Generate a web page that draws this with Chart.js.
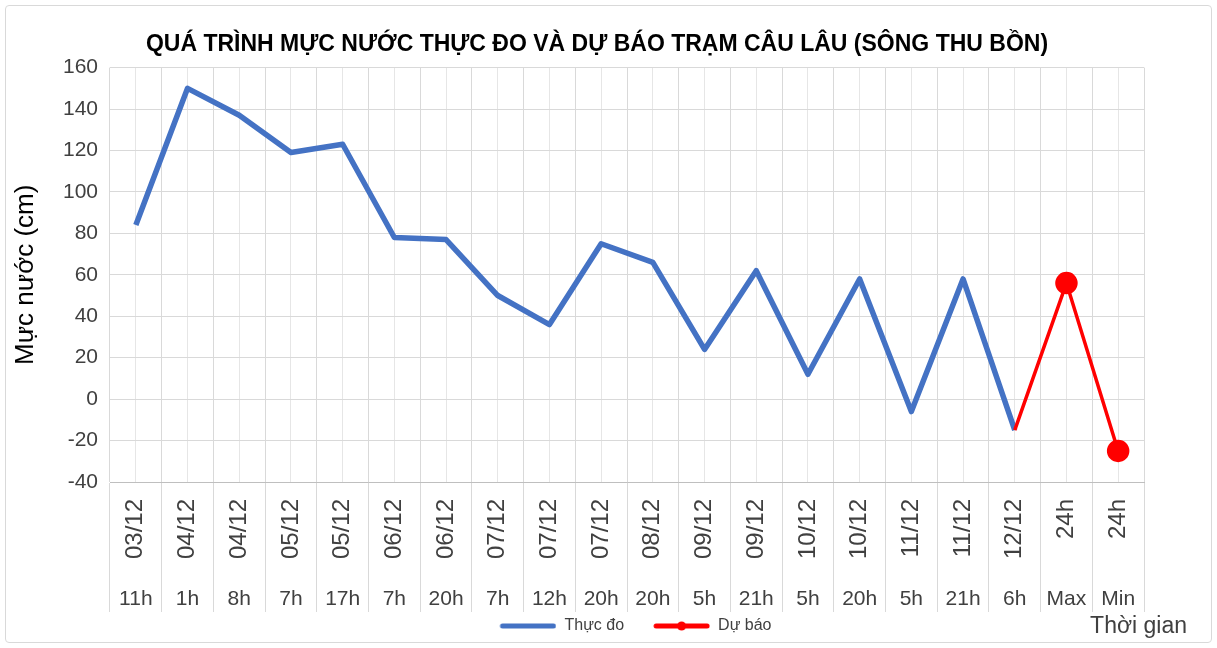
<!DOCTYPE html>
<html>
<head>
<meta charset="utf-8">
<script src="https://cdn.jsdelivr.net/npm/chart.js@4/dist/chart.umd.min.js"></script>
<style>
  body { margin: 0; background: #fff; }
  #wrap { position: relative; width: 1217px; height: 648px; }
  #frame { position: absolute; left: 5px; top: 5px; width: 1205px; height: 636px;
           border: 1px solid #d9d9d9; border-radius: 4px; pointer-events: none; }
</style>
</head>
<body>
<div id="wrap">
  <canvas id="chart" width="1217" height="648"></canvas>
  <div id="frame"></div>
</div>
<script>
const ngay = ['03/12', '04/12', '04/12', '05/12', '05/12', '06/12', '06/12', '07/12', '07/12', '07/12',
              '08/12', '09/12', '09/12', '10/12', '10/12', '11/12', '11/12', '12/12', '24h', '24h'];
const gio = ['11h', '1h', '8h', '7h', '17h', '7h', '20h', '7h', '12h', '20h',
             '20h', '5h', '21h', '5h', '20h', '5h', '21h', '6h', 'Max', 'Min'];
const thucDo = [84, 150, 137, 119, 123, 78, 77, 50, 36, 75, 66, 24, 62, 12, 58, -6, 58, -15, null, null];
const duBao = [null, null, null, null, null, null, null, null, null, null,
               null, null, null, null, null, null, null, -15, 56, -25];
const yTicks = { min: -40, max: 160, step: 20 };

const font = 'Liberation Sans, Arial, sans-serif';
const xanh = '#4472C4';
const do_ = '#FF0000';

// ky hieu chu giai: doan thang (co cham tron cho du bao), chua khoang trong ben trai
function kyHieu(mau, coCham) {
    const c = document.createElement('canvas');
    c.width = 74;
    c.height = 12;
    const g = c.getContext('2d');
    g.strokeStyle = mau;
    g.lineWidth = 5;
    g.lineCap = 'round';
    g.beginPath();
    g.moveTo(20, 6);
    g.lineTo(71, 6);
    g.stroke();
    if (coCham) {
        g.fillStyle = mau;
        g.beginPath();
        g.arc(45.5, 6, 4.5, 0, Math.PI * 2);
        g.fill();
    }
    return c;
}

// chu "Thoi gian" nam canh chu giai
const thoiGianPlugin = {
    id: 'thoiGian',
    afterDraw(chart) {
        const ctx = chart.ctx;
        const lg = chart.legend;
        ctx.save();
        ctx.font = '23px ' + font;
        ctx.fillStyle = '#404040';
        ctx.textAlign = 'right';
        ctx.textBaseline = 'middle';
        ctx.fillText('Thời gian', chart.chartArea.right + 43, lg.top + lg.height / 2 + 2);
        ctx.restore();
    }
};

const config = {
    type: 'line',
    data: {
        labels: ngay,
        datasets: [{
            label: 'Thực đo',
            data: thucDo,
            borderColor: xanh,
            backgroundColor: xanh,
            borderWidth: 5.5,
            pointRadius: 0,
            borderJoinStyle: 'round',
            order: 1
        }, {
            label: 'Dự báo',
            data: duBao,
            borderColor: do_,
            backgroundColor: do_,
            borderWidth: 3.5,
            pointRadius: duBao.map((v, i) => (i >= 18 ? 9.5 : 0)),
            pointStyle: 'circle',
            pointBackgroundColor: do_,
            pointBorderColor: do_,
            borderJoinStyle: 'round',
            order: 0
        }]
    },
    options: {
        responsive: false,
        animation: false,
        layout: { padding: { left: 10, right: 33, top: 0, bottom: 4 } },
        plugins: {
            title: {
                display: true,
                text: 'QUÁ TRÌNH MỰC NƯỚC THỰC ĐO VÀ DỰ BÁO TRẠM CÂU LÂU (SÔNG THU BỒN)',
                font: { family: font, size: 23, weight: 'bold' },
                color: '#000',
                padding: { top: 31, bottom: 9 }
            },
            legend: {
                position: 'bottom',
                fullSize: false,
                labels: {
                    font: { family: font, size: 16 },
                    color: '#404040',
                    usePointStyle: true,
                    pointStyleWidth: 74,
                    boxHeight: 12,
                    padding: 12,
                    generateLabels: chart => chart.data.datasets.map((ds, i) => ({
                        text: ds.label,
                        fillStyle: ds.borderColor,
                        strokeStyle: ds.borderColor,
                        fontColor: '#404040',
                        lineWidth: 0,
                        hidden: false,
                        pointStyle: kyHieu(ds.borderColor, i === 1),
                        datasetIndex: i
                    }))
                }
            },
            tooltip: { enabled: false }
        },
        scales: {
            x: {
                type: 'category',
                labels: ngay,
                offset: true,
                weight: 0,
                grid: { offset: true, color: '#d9d9d9', tickColor: '#d9d9d9', tickLength: 130 },
                border: { color: '#bfbfbf' },
                ticks: {
                    font: { family: font, size: 24 },
                    color: '#404040',
                    minRotation: 90,
                    maxRotation: 90,
                    autoSkip: false,
                    padding: -113
                },
                afterFit: s => { s.height = 100; }
            },
            x2: {
                type: 'category',
                labels: gio,
                position: 'bottom',
                offset: true,
                weight: 1,
                grid: { offset: false, color: '#e6e6e6', drawTicks: false },
                border: { display: false },
                ticks: {
                    font: { family: font, size: 21 },
                    color: '#404040',
                    maxRotation: 0,
                    autoSkip: false,
                    padding: 5
                },
                afterFit: s => { s.height = 24; }
            },
            y: {
                min: yTicks.min,
                max: yTicks.max,
                ticks: {
                    stepSize: yTicks.step,
                    font: { family: font, size: 21 },
                    color: '#404040',
                    padding: 12
                },
                grid: { color: '#d9d9d9', drawTicks: false },
                border: { display: false },
                title: {
                    display: true,
                    text: 'Mực nước (cm)',
                    font: { family: font, size: 26 },
                    color: '#000',
                    padding: 0
                },
                afterFit: s => { s.width = 100; }
            },
            // truc phai trong, chi de giu khoang trong ben phai
            yPhai: {
                position: 'right',
                grid: { drawOnChartArea: false, drawTicks: false },
                border: { display: false },
                ticks: { display: false },
                afterFit: s => { s.width = 40; }
            }
        }
    },
    plugins: [thoiGianPlugin]
};

new Chart(document.getElementById('chart').getContext('2d'), config);
</script>
</body>
</html>
